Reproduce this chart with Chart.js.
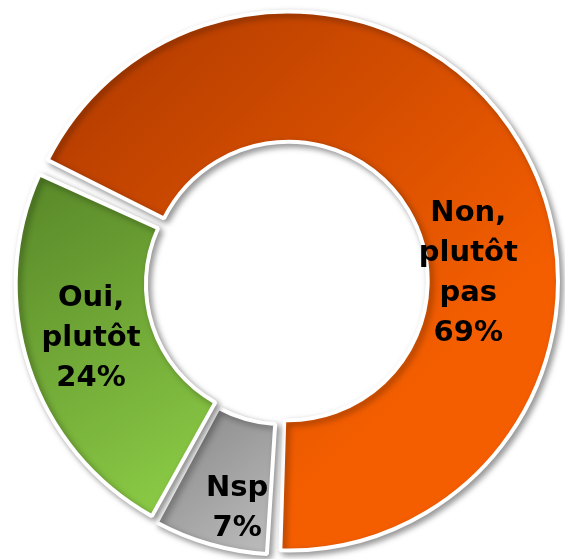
<!DOCTYPE html>
<html>
<head>
<meta charset="utf-8">
<script src="https://cdn.jsdelivr.net/npm/chart.js@4"></script>
<style>
  html, body { margin: 0; padding: 0; background: #fff; }
  #wrap { width: 565px; height: 559px; position: relative; }
</style>
</head>
<body>
<div id="wrap"><canvas id="chartDonut"></canvas></div>
<script>
'use strict';

// ─── Data ──────────────────────────────────────────────────────────────────────
const categories = [['Non,', 'plutôt', 'pas'], ['Nsp'], ['Oui,', 'plutôt']];
const values     = [69, 7, 24];

// gradient colours per slice (dark top-left -> light bottom-right)
const darkColors  = ['#ad3900', '#848484', '#578628'];
const lightColors = ['#f45e00', '#bdbdbd', '#8fd048'];

// label placement: angle (deg clockwise from 12 o'clock) and position across the ring (0 inner, 1 outer)
const labelAngles = [87, 192, 254];
const labelRing   = [0.39, 0.75, 0.53];

// ─── Plugins ───────────────────────────────────────────────────────────────────
const gradientPlugin = {
  id: 'sliceGradient',
  beforeDatasetsDraw(chart) {
    const ctx = chart.ctx;
    chart.getDatasetMeta(0).data.forEach((arc, i) => {
      let minX = Infinity, minY = Infinity, maxX = -Infinity, maxY = -Infinity;
      for (let k = 0; k <= 40; k++) {
        const a = arc.startAngle + (arc.endAngle - arc.startAngle) * k / 40;
        for (const r of [arc.innerRadius, arc.outerRadius]) {
          const px = arc.x + Math.cos(a) * r, py = arc.y + Math.sin(a) * r;
          minX = Math.min(minX, px); maxX = Math.max(maxX, px);
          minY = Math.min(minY, py); maxY = Math.max(maxY, py);
        }
      }
      const g = ctx.createLinearGradient(minX, minY, maxX, maxY);
      g.addColorStop(0, darkColors[i]);
      g.addColorStop(i === 0 ? 0.72 : 1, lightColors[i]);
      g.addColorStop(1, lightColors[i]);
      arc.options.backgroundColor = g;
    });
  }
};

const shadowPlugin = {
  id: 'sliceShadow',
  beforeDatasetsDraw(chart) {
    const ctx = chart.ctx;
    ctx.save();
    ctx.shadowColor = 'rgba(0,0,0,0.38)';
    ctx.shadowBlur = 6;
    ctx.shadowOffsetX = 3;
    ctx.shadowOffsetY = 3;
  },
  afterDatasetsDraw(chart) {
    chart.ctx.restore();
  }
};

const labelPlugin = {
  id: 'sliceLabels',
  afterDatasetsDraw(chart) {
    const ctx = chart.ctx;
    const lineH = 40;
    ctx.save();
    ctx.font = "bold 29px 'DejaVu Sans', sans-serif";
    ctx.fillStyle = '#000';
    ctx.textAlign = 'center';
    ctx.textBaseline = 'middle';
    chart.getDatasetMeta(0).data.forEach((arc, i) => {
      const a = (labelAngles[i] - 90) * Math.PI / 180;
      const r = arc.innerRadius + labelRing[i] * (arc.outerRadius - arc.innerRadius);
      const cx = arc.x + Math.cos(a) * r;
      const cy = arc.y + Math.sin(a) * r;
      const lines = [...categories[i], values[i] + '%'];
      const top = cy - (lines.length - 1) * lineH / 2;
      lines.forEach((t, j) => ctx.fillText(t, cx, top + j * lineH));
    });
    ctx.restore();
  }
};

// ─── Chart ─────────────────────────────────────────────────────────────────────
new Chart(document.getElementById('chartDonut'), {
  type: 'doughnut',
  data: {
    labels: categories.map(c => c.join(' ')),
    datasets: [{
      data: values,
      backgroundColor: lightColors,
      borderColor: '#ffffff',
      borderWidth: 4,
      offset: 16,
      spacing: 5,
    }]
  },
  options: {
    responsive: true,
    maintainAspectRatio: false,
    animation: false,
    rotation: -65,
    radius: 263,
    cutout: 133,
    layout: { padding: { left: 5, top: 7 } },
    plugins: {
      legend: { display: false },
      tooltip: { enabled: false }
    }
  },
  plugins: [gradientPlugin, shadowPlugin, labelPlugin]
});
</script>
</body>
</html>
